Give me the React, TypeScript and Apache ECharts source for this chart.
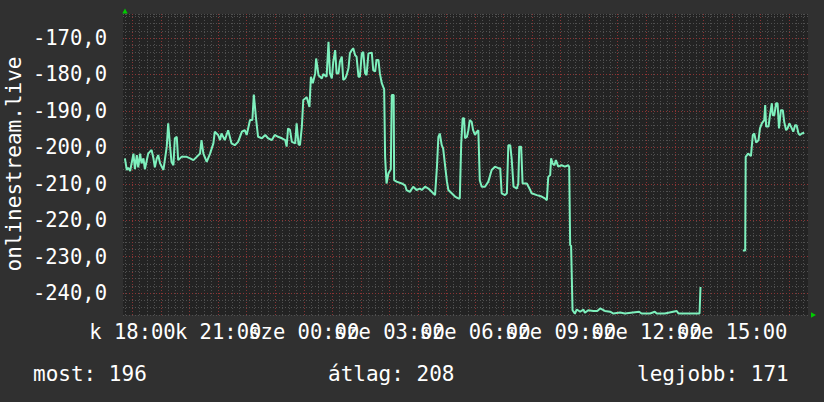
import React, { useEffect, useRef } from "react";
import * as echarts from "echarts";

// ---- data ----
const startTime = "17:40"; // left edge of the 24h window
const times = [
  "17:44","17:48","17:51","17:55","18:02","18:05","18:09","18:12","18:16","18:19",
  "18:23","18:26","18:33","18:40","18:44","18:47","18:51","18:54","18:58","19:05",
  "19:12","19:15","19:19","19:22","19:26","19:29","19:33","19:36","19:43","19:54",
  "20:01","20:08","20:15","20:22","20:25","20:29","20:36","20:43","20:50","20:53",
  "21:00","21:04","21:07","21:14","21:21","21:28","21:35","21:42","21:50","21:56",
  "22:00","22:07","22:12","22:15","22:20","22:24","22:32","22:39","22:45","22:53",
  "22:59","23:06","23:14","23:21","23:24","23:27","23:31","23:35","23:42","23:45",
  "23:49","23:52","23:56","23:59","00:03","00:06","00:12","00:15","00:19","00:24",
  "00:26","00:31","00:38","00:41","00:48","00:52","00:55","00:59","01:02","01:06",
  "01:09","01:13","01:16","01:20","01:23","01:27","01:30","01:34","01:37","01:41",
  "01:44","01:48","01:51","01:55","01:58","02:02","02:05","02:09","02:12","02:16",
  "02:23","02:26","02:30","02:33","02:37","02:40","02:44","02:47","02:49","02:51",
  "02:54","02:58","03:03","03:05","03:09","03:10","03:15","03:26","03:33","03:36",
  "03:43","03:50","03:54","03:57","04:04","04:08","04:15","04:22","04:29","04:36",
  "04:40","04:43","04:46","04:50","04:53","04:57","05:01","05:04","05:11","05:18",
  "05:25","05:28","05:31","05:34","05:37","05:39","05:43","05:46","05:49","05:53",
  "05:56","06:00","06:04","06:07","06:10","06:14","06:21","06:28","06:35","06:42",
  "06:49","06:53","06:56","07:03","07:07","07:10","07:14","07:17","07:21","07:28",
  "07:31","07:33","07:37","07:40","07:49","07:56","07:59","08:10","08:20","08:27",
  "08:31","08:34","08:38","08:40","08:43","08:47","08:50","08:55","09:02","09:09",
  "09:16","09:18","09:20","09:22","09:25","09:30","09:34","09:41","09:48","09:51",
  "09:58","10:09","10:17","10:23","10:33","10:44","10:51","11:05","11:15","11:45",
  "11:50","12:08","12:18","12:22","12:39","13:04","13:08","13:21","13:52","13:54",
  "13:55",
  "15:23","15:28","15:29","15:34","15:40","15:44","15:47","15:51","15:56","15:59",
  "16:03","16:08","16:10","16:12","16:17","16:20","16:24","16:26","16:29","16:33",
  "16:36","16:39","16:43","16:47","16:50","16:54","16:57","17:01","17:06","17:09",
  "17:13","17:16","17:20","17:23","17:27","17:32"
];
const values: (number | null)[] = [
  -203.0,-206.2,-205.6,-206.5,-201.7,-206.0,-202.1,-205.5,-201.7,-204.4,
  -203.0,-206.0,-201.7,-200.7,-203.0,-205.5,-203.0,-202.1,-204.4,-206.2,
  -199.8,-193.4,-199.8,-204.0,-204.9,-197.5,-197.1,-203.5,-202.6,-202.6,
  -203.0,-203.5,-202.6,-201.7,-198.0,-201.7,-204.0,-201.7,-198.9,-195.7,
  -196.6,-198.0,-196.2,-198.0,-195.3,-198.9,-199.4,-198.5,-195.7,-195.3,
  -196.6,-192.5,-192.5,-185.5,-192.5,-197.1,-197.5,-196.6,-197.5,-198.0,
  -196.6,-197.1,-197.5,-198.0,-199.8,-194.8,-195.2,-198.5,-198.9,-193.4,
  -199.2,-199.4,-194.3,-187.0,-186.6,-186.2,-188.9,-180.6,-182.4,-179.7,
  -175.6,-180.2,-181.1,-179.9,-180.6,-171.0,-179.7,-181.1,-176.5,-173.3,
  -179.7,-179.7,-176.5,-175.1,-181.5,-181.1,-180.2,-178.3,-174.2,-173.3,
  -172.8,-174.7,-175.1,-180.6,-180.6,-174.2,-173.8,-179.7,-180.2,-174.2,
  -174.0,-178.8,-179.2,-176.0,-176.0,-179.7,-182.4,-183.4,-184.0,-202.6,
  -209.9,-207.1,-206.0,-185.6,-185.6,-209.0,-209.4,-209.9,-210.4,-211.7,
  -212.2,-210.8,-211.3,-211.7,-211.3,-211.7,-210.8,-211.3,-212.2,-213.1,
  -205.3,-197.1,-196.2,-199.4,-200.3,-204.9,-209.4,-211.7,-212.6,-213.5,
  -214.0,-214.0,-198.9,-192.0,-192.0,-197.5,-197.1,-195.3,-192.5,-193.0,
  -195.3,-196.6,-195.7,-195.3,-209.0,-210.8,-210.8,-209.4,-206.2,-205.3,
  -205.7,-205.7,-212.6,-213.1,-212.6,-199.4,-199.4,-203.0,-210.8,-211.3,
  -209.9,-199.8,-199.8,-209.9,-209.9,-211.7,-212.6,-213.1,-213.5,-214.0,
  -214.5,-208.1,-207.6,-203.0,-204.4,-204.9,-203.5,-205.3,-204.9,-205.3,
  -204.9,-205.3,-226.8,-227.0,-244.7,-245.6,-244.5,-245.1,-244.5,-245.4,
  -244.7,-244.9,-244.9,-244.2,-244.9,-245.1,-245.6,-245.3,-245.6,-245.1,
  -245.6,-245.6,-245.1,-245.6,-245.6,-244.9,-245.6,-245.6,-245.6,-238.3,
  null,
  -228.3,-228.3,-202.6,-201.7,-202.4,-196.6,-196.2,-198.7,-198.0,-194.8,
  -193.4,-192.5,-188.4,-194.3,-194.3,-191.2,-187.9,-191.2,-191.2,-187.9,
  -187.9,-194.8,-189.8,-189.8,-193.0,-195.3,-194.8,-193.4,-194.8,-195.7,
  -193.9,-193.9,-196.2,-196.6,-196.2,-196.0
];
const tickTimes = ["18:00","21:00","00:00","03:00","06:00","09:00","12:00","15:00"];
const tickLabels = ["k 18:00","k 21:00","sze 00:00","sze 03:00","sze 06:00","sze 09:00","sze 12:00","sze 15:00"];
const yMajorTicks = [-240, -230, -220, -210, -200, -190, -180, -170];
const yMin = -246;
const yMax = -163.4;
const axisTitle = "onlinestream.live";
const legendLabels = ["most: 196", "átlag: 208", "legjobb: 171"];

const toMin = (s: string) => {
  const [h, m] = s.split(":").map(Number);
  return h * 60 + m;
};

export default function App() {
  const ref = useRef<HTMLDivElement>(null);
  useEffect(() => {
    document.body.style.margin = "0";
    if (!ref.current) return;
    const chart = echarts.init(ref.current, null, { renderer: "svg" });

    const START = toMin(startTime);
    const END = START + 1440;
    const rel = (s: string) => {
      const m = toMin(s);
      return m < START ? m + 1440 : m;
    };
    let prev = -1;
    let off = 0;
    const data = times.map((t, i) => {
      let m = toMin(t) + off;
      if (m < prev) {
        off += 1440;
        m += 1440;
      }
      prev = m;
      return [m, values[i]];
    });
    const tickMins = tickTimes.map(rel);
    const labelMap: Record<number, string> = {};
    tickMins.forEach((m, i) => (labelMap[m] = tickLabels[i]));
    // split labels over two axes so the library never drops overlapping neighbours
    const ticksA = tickMins.filter((_, i) => i % 2 === 0);
    const ticksB = tickMins.filter((_, i) => i % 2 === 1);

    const minorColor = "#505050";
    const majorColor = "#8a3434";
    const dash = [1, 2];
    const gridLines: any[] = [];
    for (let m = Math.ceil(START / 15) * 15; m < END; m += 15) {
      if (m % 60 !== 0)
        gridLines.push({ xAxis: m, lineStyle: { color: minorColor, type: dash, width: 1 } });
    }
    for (let m = Math.ceil(START / 60) * 60; m < END; m += 60) {
      gridLines.push({ xAxis: m, lineStyle: { color: majorColor, type: dash, width: 1 } });
    }
    yMajorTicks.forEach((v) =>
      gridLines.push({ yAxis: v, lineStyle: { color: majorColor, type: dash, width: 1 } })
    );

    const font = "DejaVu Sans Mono";
    const labelStyle = {
      formatter: (v: number) => labelMap[v] ?? "",
      color: "#ffffff",
      fontFamily: font,
      fontSize: 20.5,
      margin: 6,
      showMinLabel: true,
      showMaxLabel: true,
    };
    const xBase = {
      type: "value",
      min: START,
      max: END,
      position: "bottom",
      offset: 0,
      axisLine: { show: false },
      axisTick: { show: false },
      splitLine: { show: false },
    };
    const option: any = {
      animation: false,
      backgroundColor: "#303030",
      grid: {
        left: 123,
        right: 16,
        top: 14,
        bottom: 87,
        show: true,
        backgroundColor: "#232323",
        borderWidth: 0,
      },
      xAxis: [
        { ...xBase, axisLabel: { ...labelStyle, customValues: ticksA } },
        { ...xBase, axisLabel: { ...labelStyle, customValues: ticksB } },
      ],
      yAxis: {
        type: "value",
        min: yMin,
        max: yMax,
        interval: 2,
        axisLine: { show: false },
        axisTick: { show: false },
        splitLine: { show: true, lineStyle: { color: minorColor, type: dash, width: 1 } },
        axisLabel: {
          formatter: (v: number) =>
            Math.abs(v % 10) < 1e-6 ? v.toFixed(1).replace(".", ",") : "",
          color: "#ffffff",
          fontFamily: font,
          fontSize: 20.5,
          margin: 16,
        },
      },
      series: [
        {
          type: "line",
          data: [],
          silent: true,
          xAxisIndex: 0,
          z: 1,
          markLine: {
            z: 1,
            silent: true,
            symbol: ["none", "none"],
            label: { show: false },
            emphasis: { disabled: true },
            data: gridLines,
          },
        },
        {
          type: "line",
          xAxisIndex: 0,
          z: 3,
          data,
          symbol: "none",
          showSymbol: false,
          connectNulls: false,
          lineStyle: { color: "#7ef0bd", width: 2 },
          silent: true,
        },
      ],
      graphic: [
        {
          type: "polygon",
          shape: { points: [[125, 8.5], [122.3, 13.5], [127.7, 13.5]] },
          style: { fill: "#00cc00" },
        },
        {
          type: "polygon",
          shape: { points: [[811, 312.3], [811, 317.7], [816, 315]] },
          style: { fill: "#00cc00" },
        },
        {
          type: "text",
          x: 14,
          y: 164,
          rotation: Math.PI / 2,
          style: {
            text: axisTitle,
            fill: "#ffffff",
            font: `21px "${font}"`,
            align: "center",
            verticalAlign: "middle",
          },
        },
        {
          type: "text",
          x: 33,
          y: 374,
          style: { text: legendLabels[0], fill: "#ffffff", font: `21px "${font}"`, align: "left", verticalAlign: "middle" },
        },
        {
          type: "text",
          x: 328,
          y: 374,
          style: { text: legendLabels[1], fill: "#ffffff", font: `21px "${font}"`, align: "left", verticalAlign: "middle" },
        },
        {
          type: "text",
          x: 637,
          y: 374,
          style: { text: legendLabels[2], fill: "#ffffff", font: `21px "${font}"`, align: "left", verticalAlign: "middle" },
        },
      ],
    };
    chart.setOption(option);
    return () => chart.dispose();
  }, []);
  return <div ref={ref} style={{ width: 824, height: 402 }} />;
}
